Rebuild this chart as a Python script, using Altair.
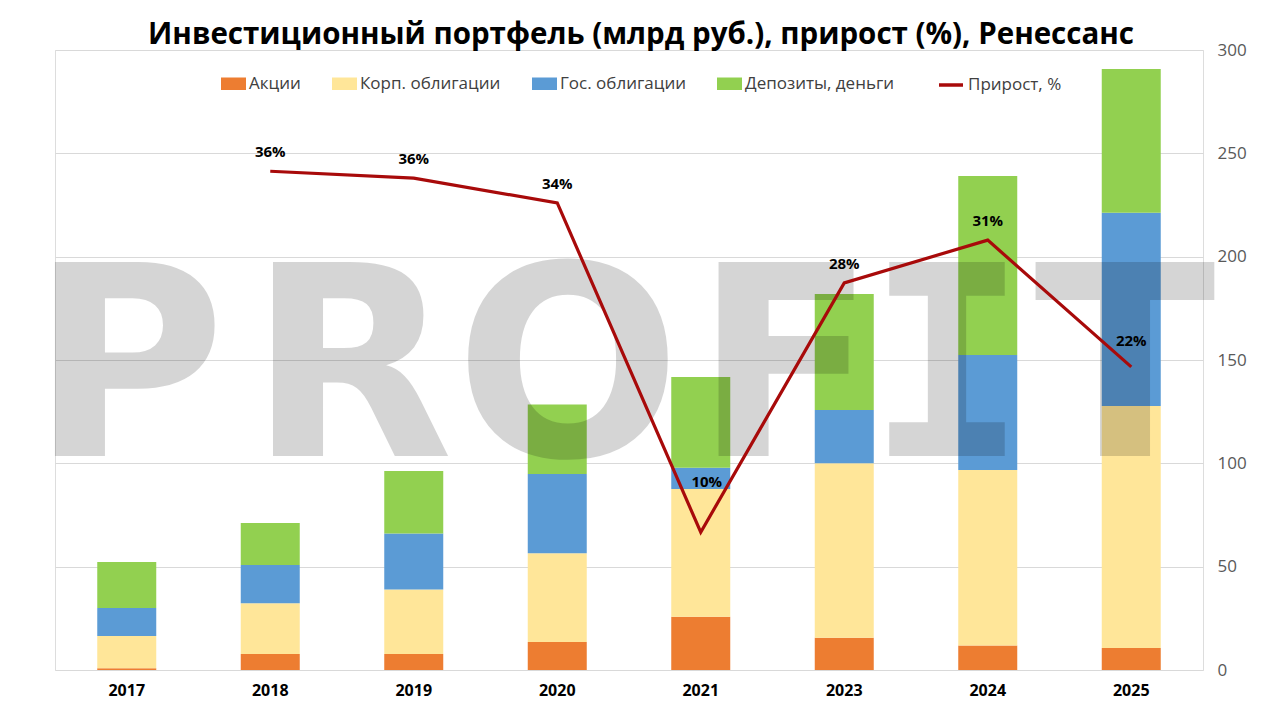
import altair as alt
import pandas as pd

# ---- data ----
years = ["2017", "2018", "2019", "2020", "2021", "2023", "2024", "2025"]
akcii = [0.8, 7.7, 7.7, 13.5, 25.8, 15.6, 11.8, 10.6]
korp = [15.6, 24.6, 31.3, 43.0, 61.8, 84.4, 85.0, 117.1]
gos = [13.6, 18.5, 27.1, 38.3, 10.3, 25.8, 55.6, 93.6]
dep = [22.3, 20.3, 30.2, 33.7, 43.9, 56.1, 86.6, 69.5]
series_names = ["Акции", "Корп. облигации", "Гос. облигации", "Депозиты, деньги"]
series_colors = ["#ED7D31", "#FFE699", "#5B9BD5", "#92D050"]

growth_years = ["2018", "2019", "2020", "2021", "2023", "2024", "2025"]
growth = [36.2, 35.7, 33.9, 10.0, 28.1, 31.2, 22.0]
line_name = "Прирост, %"
line_color = "#A80A0A"

y_ticks = [0, 50, 100, 150, 200, 250, 300]
title_text = "Инвестиционный портфель (млрд руб.), прирост (%), Ренессанс"
watermark = "PROFIT"

rows = []
for i, (name, vals) in enumerate(zip(series_names, [akcii, korp, gos, dep])):
    for yr, v in zip(years, vals):
        rows.append({"year": yr, "series": name, "value": v, "order": i})
bars_df = pd.DataFrame(rows)
line_df = pd.DataFrame({"year": growth_years, "pct": growth, "series": line_name})

FONT = "Open Sans"
W, H = 1148, 620

x_enc = alt.X(
    "year:N",
    sort=years,
    scale=alt.Scale(domain=years, paddingInner=0, paddingOuter=0),
    axis=alt.Axis(
        title=None, domain=False, ticks=False, labelAngle=0, labelFont=FONT,
        labelFontSize=16, labelFontWeight="bold", labelColor="#000000", labelPadding=12,
    ),
)

pct_scale = alt.Scale(domain=[0, 45], nice=False, zero=True)

bars = alt.Chart(bars_df).mark_bar(width=59).encode(
    x=x_enc,
    y=alt.Y(
        "value:Q",
        stack="zero",
        scale=alt.Scale(domain=[0, 300], nice=False),
        axis=alt.Axis(
            orient="right", title=None, values=y_ticks, domain=False, ticks=False,
            grid=True, gridColor="#d9d9d9", gridWidth=1, labelFont=FONT, labelFontSize=17,
            labelColor="#595959", labelPadding=14,
        ),
    ),
    fill=alt.Fill(
        "series:N",
        scale=alt.Scale(domain=series_names, range=series_colors),
        legend=alt.Legend(
            title=None, orient="none", legendX=166, legendY=21, direction="horizontal",
            columns=4, symbolType="M-1,-0.5H1V0.5H-1Z", symbolSize=625, symbolStrokeWidth=0,
            symbolOpacity=1, labelFont=FONT, labelFontSize=17, labelColor="#404040",
            labelOffset=3, columnPadding=31,
        ),
    ),
    order=alt.Order("order:Q"),
)

# watermark: one text mark per letter (decoration, not data)
wm_layers = []
wm_centers = [73, 296, 513, 730, 892, 1070]
for ch, cx in zip(watermark, wm_centers):
    fnt = "DejaVu Sans Mono" if ch == "I" else "DejaVu Sans"
    wm_layers.append(
        alt.Chart(pd.DataFrame({"t": [ch]})).mark_text(
            font=fnt, fontWeight="bold", fontSize=266, color="#000000", opacity=0.16,
            align="center", baseline="alphabetic",
        ).encode(x=alt.value(cx), y=alt.value(406), text="t:N")
    )

line = alt.Chart(line_df).mark_line(strokeWidth=3.2).encode(
    x=x_enc,
    y=alt.Y("pct:Q", scale=pct_scale, axis=None),
    stroke=alt.Stroke(
        "series:N",
        scale=alt.Scale(domain=[line_name], range=[line_color]),
        legend=alt.Legend(
            title=None, orient="none", legendX=882, legendY=21, symbolType="stroke",
            symbolSize=576, symbolStrokeWidth=3.5, labelFont=FONT, labelFontSize=17,
            labelColor="#404040", labelOffset=3,
        ),
    ),
)

lbl_base = alt.Chart(line_df).transform_calculate(
    lbl="format(datum.pct, '.0f') + '%'"
)
labels = lbl_base.transform_filter(
    "datum.year != '2021' && datum.year != '2025'"
).mark_text(
    dy=-19, font=FONT, fontSize=15, fontWeight="bold", color="#000000"
).encode(x=x_enc, y=alt.Y("pct:Q", scale=pct_scale, axis=None), text="lbl:N")

label21 = lbl_base.transform_filter("datum.year == '2021'").mark_text(
    dx=6, dy=-50, font=FONT, fontSize=15, fontWeight="bold", color="#000000"
).encode(x=x_enc, y=alt.Y("pct:Q", scale=pct_scale, axis=None), text="lbl:N")

label25 = lbl_base.transform_filter("datum.year == '2025'").mark_text(
    dy=-26, font=FONT, fontSize=15, fontWeight="bold", color="#000000"
).encode(x=x_enc, y=alt.Y("pct:Q", scale=pct_scale, axis=None), text="lbl:N")

chart = alt.layer(bars, *wm_layers, line, labels, label21, label25).resolve_scale(
    y="independent"
).properties(
    width=W,
    height=H,
    autosize=alt.AutoSizeParams(type="none"),
    padding={"left": 47, "top": 42, "right": 60, "bottom": 40},
    title=alt.TitleParams(
        title_text, font=FONT, fontSize=29.5, fontWeight="bold", color="#000000",
        anchor="middle", offset=-9, dx=12,
    ),
).configure_view(stroke=None).configure(background="white")

chart.save("out.html", embed_options={"renderer": "svg", "actions": False})
